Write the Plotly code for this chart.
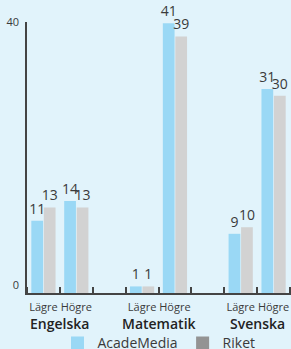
import plotly.graph_objects as go

subjects = ["Engelska", "Matematik", "Svenska"]
levels = ["Lägre", "Högre"]
academedia = [11, 14, 1, 41, 9, 31]
riket = [13, 13, 1, 39, 10, 30]
series_names = ["AcadeMedia", "Riket"]
y_ticks = [0, 40]

BLUE = "#9ad8f5"
GRAY = "#d2d2d2"
GRAY_LEG = "#939393"
BG = "#e1f3fb"
TXT = "#3a3a3a"

# x positions: each subject has two slots followed by an empty slot
xpos = []
labels = []
for i, s in enumerate(subjects):
    for j, lv in enumerate(levels):
        xpos.append(i * 3 + j)
        labels.append(lv)

fig = go.Figure()
for name, vals, col in [(series_names[0], academedia, BLUE), (series_names[1], riket, GRAY)]:
    fig.add_trace(go.Bar(
        x=xpos, y=vals, name=name, marker=dict(color=col, line=dict(width=0)),
        text=[str(v) for v in vals], textposition="outside", constraintext="none",
        textfont=dict(family="Open Sans, sans-serif", size=14, color=TXT),
        cliponaxis=False, showlegend=False,
    ))
for name, col in [(series_names[0], BLUE), (series_names[1], GRAY_LEG)]:
    fig.add_trace(go.Scatter(
        x=[None], y=[None], mode="markers", name=name,
        marker=dict(symbol="square", size=13, color=col),
    ))

for i, s in enumerate(subjects):
    fig.add_annotation(
        x=i * 3 + 0.5, xref="x", y=0, yref="paper", yanchor="middle", yshift=-30,
        text=s, showarrow=False,
        font=dict(family="Open Sans, sans-serif", size=14, color="#222", weight=600),
    )

fig.update_layout(
    width=291, height=349,
    paper_bgcolor=BG, plot_bgcolor=BG,
    margin=dict(l=27, r=0, t=22, b=56, autoexpand=False),
    barmode="group", bargap=0.24, bargroupgap=0.06,
    font=dict(family="Open Sans, sans-serif", color=TXT),
    legend=dict(orientation="h", x=0.5, xanchor="center", y=-0.186, yanchor="middle",
                font=dict(size=14, color=TXT), bgcolor="rgba(0,0,0,0)",
                itemwidth=30, tracegroupgap=0),
    xaxis=dict(
        range=[-0.5, 7.53], tickvals=xpos, ticktext=labels, ticks="",
        showline=True, linecolor="#444", linewidth=1.5, showgrid=False, zeroline=False,
        tickfont=dict(size=11, color=TXT), automargin=False, ticklabelstandoff=3,
        minor=dict(tickvals=[k + 0.5 for k in range(-1, 8)], ticks="inside",
                   ticklen=6, tickcolor="#444", tickwidth=1.5, showgrid=False),
    ),
    yaxis=dict(
        range=[0, 41.2], tickvals=y_ticks, ticks="", showgrid=False, zeroline=False,
        showline=True, linecolor="#444", linewidth=1.5, automargin=False,
        tickfont=dict(size=11, color=TXT), ticklabelshift=-8, ticklabelstandoff=4,
    ),
)

fig.write_html("out.html", config={"displayModeBar": False},
               post_script="document.body.style.margin='0';")
